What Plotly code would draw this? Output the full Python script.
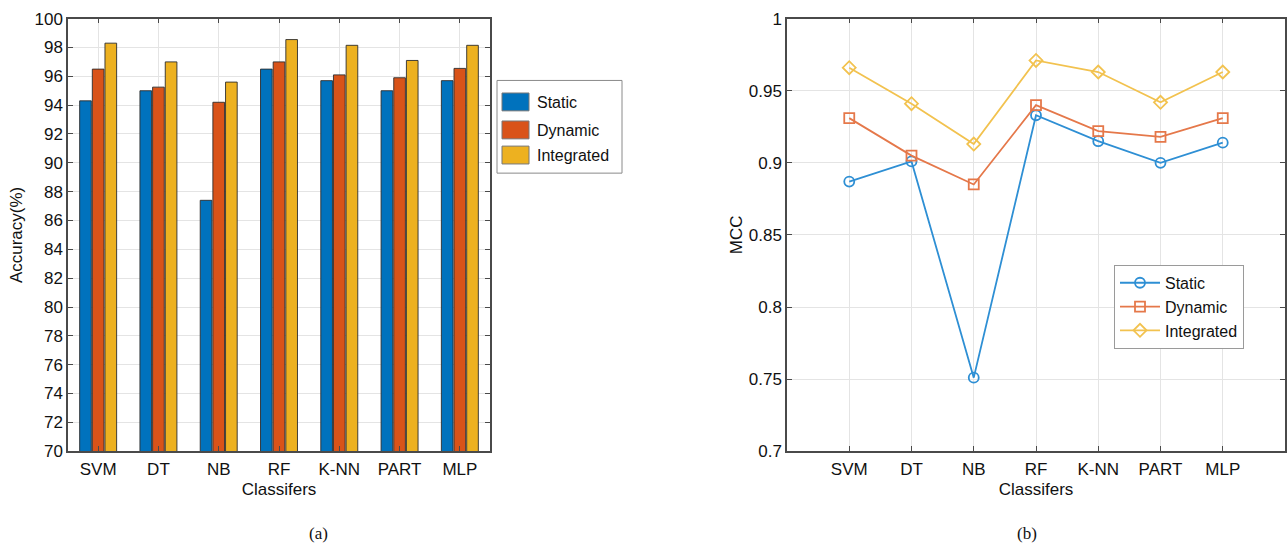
import plotly.graph_objects as go

# ---------------- data ----------------
classifiers = ["SVM", "DT", "NB", "RF", "K-NN", "PART", "MLP"]
series_names = ["Static", "Dynamic", "Integrated"]

acc_static = [94.3, 95.0, 87.4, 96.5, 95.7, 95.0, 95.7]
acc_dynamic = [96.5, 95.25, 94.2, 97.0, 96.1, 95.9, 96.55]
acc_integrated = [98.3, 97.0, 95.6, 98.55, 98.15, 97.1, 98.15]

mcc_static = [0.887, 0.901, 0.751, 0.933, 0.915, 0.900, 0.914]
mcc_dynamic = [0.931, 0.905, 0.885, 0.940, 0.922, 0.918, 0.931]
mcc_integrated = [0.966, 0.941, 0.913, 0.971, 0.963, 0.942, 0.963]

acc_ticks = list(range(70, 101, 2))
mcc_ticks = [0.7, 0.75, 0.8, 0.85, 0.9, 0.95, 1]
mcc_tick_text = ["0.7", "0.75", "0.8", "0.85", "0.9", "0.95", "1"]
mcc_x = [1, 2, 3, 4, 5, 6, 7]

# ---------------- styles ----------------
bar_colors = ["#0072BD", "#D95319", "#EDB120"]
line_colors = ["#2e8fd4", "#e5784a", "#f2c24f"]
markers = ["circle-open", "square-open", "diamond-open"]
FONT = "Liberation Sans, Arial, sans-serif"
SERIF = "Liberation Serif, Times New Roman, serif"
W, H = 1287, 550


def px(x):
    return x / W


def py(y):
    return 1 - y / H


fig = go.Figure()

acc_data = [acc_static, acc_dynamic, acc_integrated]
for name, vals, col in zip(series_names, acc_data, bar_colors):
    fig.add_trace(go.Bar(
        x=classifiers, y=vals, name=name, marker_color=col,
        marker_line=dict(color="rgba(45,45,45,0.9)", width=1),
        xaxis="x", yaxis="y", showlegend=False,
    ))

mcc_data = [mcc_static, mcc_dynamic, mcc_integrated]
for name, vals, col, sym in zip(series_names, mcc_data, line_colors, markers):
    fig.add_trace(go.Scatter(
        x=mcc_x, y=vals, name=name, mode="lines+markers",
        line=dict(color=col, width=1.8),
        marker=dict(symbol=sym, size=10, color=col, line=dict(width=1.8, color=col)),
        xaxis="x2", yaxis="y2", showlegend=True,
    ))

axis_common = dict(
    showline=True, linecolor="#4a4a4a", linewidth=1.5, mirror="ticks",
    ticks="inside", ticklen=5, tickcolor="#4a4a4a",
    showgrid=True, gridcolor="#e4e4e4", gridwidth=1,
    zeroline=False, tickfont=dict(family=FONT, size=17, color="#111"),
    ticklabeloverflow="allow",
)

TOP, BOTTOM = 10, 458

fig.update_layout(
    width=W, height=H,
    margin=dict(l=0, r=0, t=0, b=0),
    paper_bgcolor="white", plot_bgcolor="white",
    font=dict(family=FONT, size=17, color="#111"),
    barmode="group", bargap=0.37, bargroupgap=0.08,
    xaxis=dict(domain=[px(68), px(490)], anchor="y", type="category",
               range=[-0.5, 6.5], ticklabelstandoff=2,
               title=dict(text="Classifers", font=dict(size=17), standoff=5),
               **axis_common),
    yaxis=dict(domain=[py(BOTTOM), py(TOP)], anchor="x", range=[70, 100], tickvals=acc_ticks,
               title=dict(text="Accuracy(%)", font=dict(size=17), standoff=8),
               **axis_common),
    xaxis2=dict(domain=[px(787), px(1285)], anchor="y2", range=[0, 8],
                tickvals=mcc_x, ticktext=classifiers, ticklabelstandoff=2,
                title=dict(text="Classifers", font=dict(size=17), standoff=5),
                **axis_common),
    yaxis2=dict(domain=[py(BOTTOM), py(TOP)], anchor="x2", range=[0.7, 1], tickvals=mcc_ticks,
                ticktext=mcc_tick_text,
                title=dict(text="MCC", font=dict(size=17), standoff=2),
                **axis_common),
    legend=dict(x=px(1114), y=py(265), xanchor="left", yanchor="top",
                xref="paper", yref="paper",
                bgcolor="white", bordercolor="#9a9a9a", borderwidth=1,
                font=dict(family=FONT, size=16, color="#111"),
                tracegroupgap=0, itemwidth=40),
)

# manual legend for the bar chart (large swatches, as in the reference)
shapes = [dict(type="rect", xref="paper", yref="paper",
               x0=px(497), x1=px(622), y0=py(170), y1=py(74),
               line=dict(color="#8a8a8a", width=1), fillcolor="white")]
annotations = []
sw_tops = [87, 116, 142]
for name, col, top in zip(series_names, bar_colors, sw_tops):
    shapes.append(dict(type="rect", xref="paper", yref="paper",
                       x0=px(502), x1=px(529), y0=py(top + 18.5), y1=py(top),
                       line=dict(color="#777", width=1), fillcolor=col))
    annotations.append(dict(x=px(535), y=py(top + 9.5), xref="paper", yref="paper",
                            text=name, showarrow=False, xanchor="left", yanchor="middle",
                            font=dict(family=FONT, size=16, color="#111")))

for label, cx in [("(a)", 318), ("(b)", 1027)]:
    annotations.append(dict(x=px(cx), y=py(543), xref="paper", yref="paper", text=label,
                            showarrow=False, xanchor="center", yanchor="middle",
                            font=dict(family=SERIF, size=17, color="#111")))

fig.update_layout(shapes=shapes, annotations=annotations)
fig.write_html("out.html")
